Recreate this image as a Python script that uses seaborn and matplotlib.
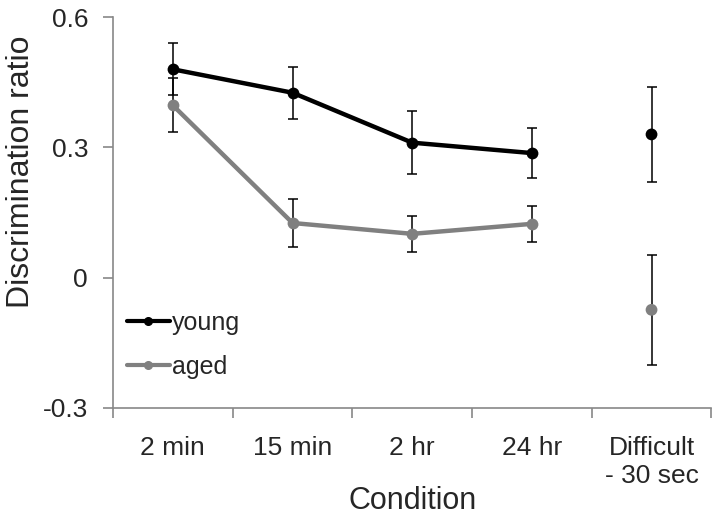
import pandas as pd
import matplotlib
matplotlib.use('Agg')
import matplotlib.pyplot as plt
import seaborn as sns

# values
conditions = ['2 min', '15 min', '2 hr', '24 hr', 'Difficult\n- 30 sec']
young = [0.480, 0.426, 0.311, 0.287, 0.330]
young_err = [0.060, 0.060, 0.072, 0.057, 0.110]
aged = [0.397, 0.126, 0.101, 0.124, -0.074]
aged_err = [0.062, 0.056, 0.041, 0.041, 0.127]

sns.set_theme(style='white')
plt.rcParams['font.family'] = ['Liberation Sans', 'DejaVu Sans']

pos = list(range(len(conditions)))
df = pd.DataFrame({'pos': pos * 2,
                   'ratio': young + aged,
                   'err': young_err + aged_err,
                   'group': ['young'] * 5 + ['aged'] * 5})
colors = {'young': '#000000', 'aged': '#808080'}

fig = plt.figure(figsize=(7.2, 5.21), dpi=100)
ax = fig.add_axes([0.157, 0.217, 0.831, 0.75])

# the first four conditions are joined, the difficult one stands alone
linked = df[df['pos'] < 4]
alone = df[df['pos'] == 4]
sns.lineplot(data=linked, x='pos', y='ratio', hue='group', palette=colors,
             marker='o', markersize=8.5, markeredgewidth=0, linewidth=3.2,
             ax=ax, legend=False, zorder=3)
sns.scatterplot(data=alone, x='pos', y='ratio', hue='group', palette=colors,
                s=72, linewidth=0, ax=ax, legend=False, zorder=3)
ax.errorbar(df['pos'], df['ratio'], yerr=df['err'], fmt='none',
            ecolor='black', elinewidth=1.1, capsize=3.5, capthick=1.1, zorder=2)

ax.set_xlim(-0.5, 4.5)
ax.set_ylim(-0.3, 0.6)
ax.set_yticks([-0.3, 0, 0.3, 0.6])
ax.set_yticklabels(['-0.3', '0', '0.3', '0.6'])
ax.set_xticks(pos)
ax.set_xticklabels(conditions)
ax.set_xticks([p - 0.5 for p in pos] + [4.5], minor=True)
ax.tick_params(axis='x', which='major', length=0, labelsize=19, pad=20)
ax.tick_params(axis='x', which='minor', bottom=True, length=7, color='#888888', width=1.2)
ax.tick_params(axis='y', left=True, length=7, color='#888888', width=1.2,
               labelsize=19, pad=11)
for side in ['top', 'right']:
    ax.spines[side].set_visible(False)
for side in ['left', 'bottom']:
    ax.spines[side].set_color('#888888')
    ax.spines[side].set_linewidth(1.2)

ax.set_xlabel('Condition', fontsize=22)
ax.set_ylabel('Discrimination ratio', fontsize=23)
ax.xaxis.set_label_coords(0.5, -0.2)
ax.yaxis.set_label_coords(-0.129, 0.604)

handles = [plt.Line2D([], [], color=colors[g], marker='o', markersize=5.5,
                      linewidth=3) for g in ['young', 'aged']]
ax.legend(handles, ['young', 'aged'], loc='center left', frameon=False,
          fontsize=18, handlelength=1.72, handletextpad=0.08,
          labelspacing=0.8, borderpad=0, borderaxespad=0,
          bbox_to_anchor=(0.023, 0.162))

fig.savefig('out.png', dpi=100)
